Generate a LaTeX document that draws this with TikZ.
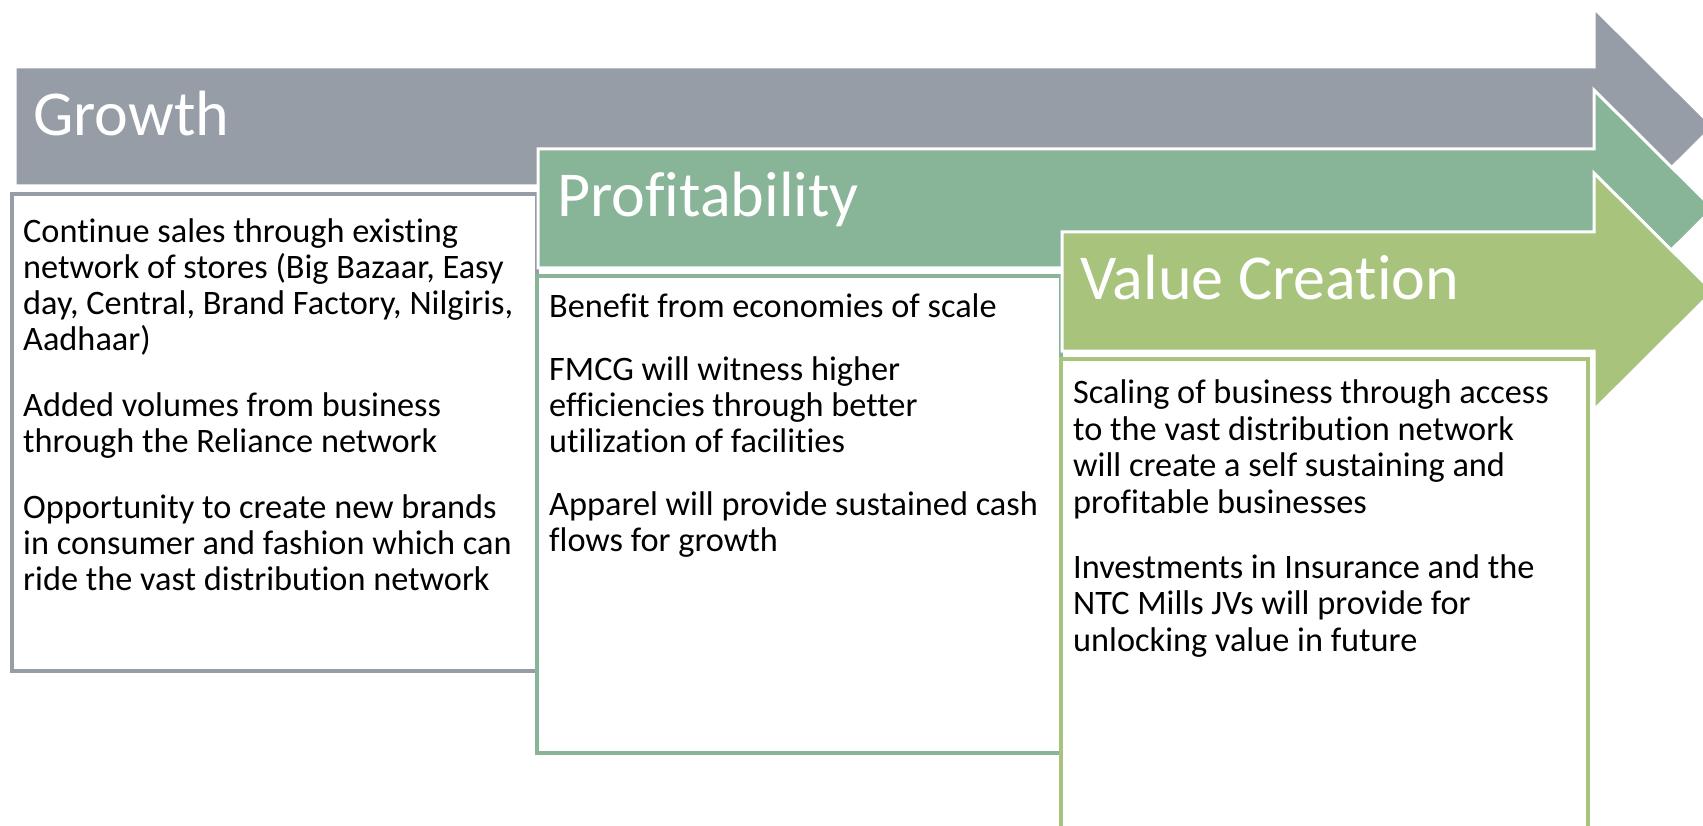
\documentclass[tikz,border=0pt]{standalone}
\usepackage{fontspec}
\setmainfont{Carlito}[Ligatures=NoCommon]
\definecolor{cgray}{RGB}{150,157,166}
\definecolor{cgreen}{RGB}{136,180,152}
\definecolor{colive}{RGB}{168,196,124}
\begin{document}
\begin{tikzpicture}[x=1pt,y=-1pt,
  arrowshape/.style={draw=white,line width=3pt,line join=miter},
  box/.style={draw=#1,line width=4pt,fill=white},
  title/.style={anchor=base west,inner sep=0pt,text=white,font=\fontsize{64}{70}\selectfont},
  body/.style={anchor=north west,inner sep=0pt,align=left,text=black,font=\fontsize{34.3}{36}\selectfont}]
\useasboundingbox (0,0) rectangle (1703,826);
\clip (0,0) rectangle (1703,826);
% Growth
\path[arrowshape,fill=cgray] (15,67) -- (1594,67) -- (1594,8) -- (1713,126.5) -- (1594,245) -- (1594,186) -- (15,186) -- cycle;
\draw[box=cgray] (12,194) rectangle (537,671);
\node[title] (tgrowth) at (33,136) {Growth};
\node[body] (bgrowth) at (23,216.8) {\strut Continue sales through existing\\
network of stores (Big Bazaar, Easy\\
day, Central, Brand Factory, Nilgiris,\\
Aadhaar)\\[30pt]
Added volumes from business\\
through the Reliance network\\[30pt]
Opportunity to create new brands\\
in consumer and fashion which can\\
ride the vast distribution network};
% Profitability
\path[arrowshape,fill=cgreen] (538,149) -- (1594,149) -- (1594,90) -- (1713,208.5) -- (1594,327) -- (1594,268) -- (538,268) -- cycle;
\draw[box=cgreen] (537,276) rectangle (1061,753);
\node[title] (tprofit) at (557,217) {Profitability};
\node[body] (bprofit) at (549,291.8) {\strut Benefit from economies of scale\\[27pt]
FMCG will witness higher\\
efficiencies through better\\
utilization of facilities\\[27pt]
Apparel will provide sustained cash\\
flows for growth};
% Value Creation
\path[arrowshape,fill=colive] (1062,232) -- (1594,232) -- (1594,173) -- (1713,291.5) -- (1594,410) -- (1594,351) -- (1062,351) -- cycle;
\draw[box=colive] (1061,359) rectangle (1588,840);
\node[title] (tvalue) at (1080,300) {Value Creation};
\node[body,font=\fontsize{34.3}{36.6}\selectfont] (bvalue) at (1073,377.9) {\strut Scaling of business through access\\
to the vast distribution network\\
will create a self sustaining and\\
profitable businesses\\[28pt]
Investments in Insurance and the\\
NTC Mills JVs will provide for\\
unlocking value in future};
\end{tikzpicture}
\end{document}
